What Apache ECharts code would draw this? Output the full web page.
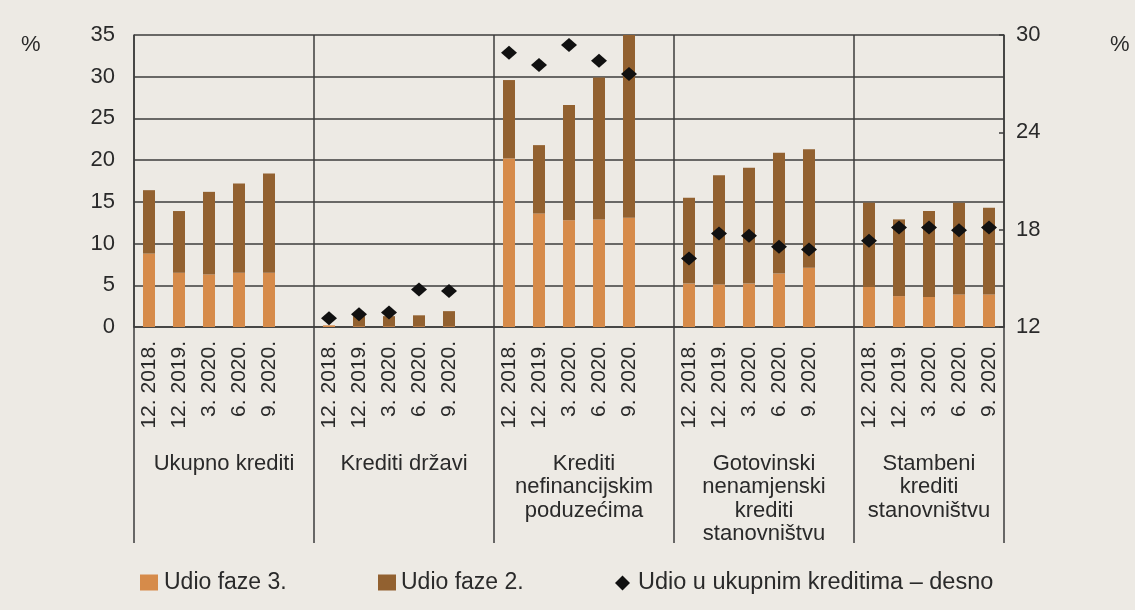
<!DOCTYPE html>
<html>
<head>
<meta charset="utf-8">
<script src="https://cdn.jsdelivr.net/npm/echarts@6/dist/echarts.min.js"></script>
<style>
html,body{margin:0;padding:0;background:#edeae4;}
#c{width:1135px;height:610px;}
</style>
</head>
<body>
<div id="c"></div>
<script>
// ---- data ----
const groups = ['Ukupno krediti', 'Krediti državi', 'Krediti\nnefinancijskim\npoduzećima', 'Gotovinski\nnenamjenski\nkrediti\nstanovništvu', 'Stambeni\nkrediti\nstanovništvu'];
const periods = ['12. 2018.', '12. 2019.', '3. 2020.', '6. 2020.', '9. 2020.'];
const seriesNames = ['Udio faze 3.', 'Udio faze 2.', 'Udio u ukupnim kreditima – desno'];
// Udio faze 3. (left axis, %)
const faza3 = [
  [8.8, 6.5, 6.3, 6.5, 6.5],
  [0.2, 0.1, 0.1, 0.1, 0.1],
  [20.2, 13.6, 12.8, 12.9, 13.1],
  [5.2, 5.1, 5.2, 6.4, 7.1],
  [4.8, 3.7, 3.6, 3.9, 3.9]
];
// Udio faze 2. (left axis, %)
const faza2 = [
  [7.6, 7.4, 9.9, 10.7, 11.9],
  [0.0, 1.2, 1.2, 1.3, 1.8],
  [9.4, 8.2, 13.8, 17.0, 21.9],
  [10.3, 13.1, 13.9, 14.5, 14.2],
  [10.1, 9.2, 10.3, 11.0, 10.4]
];
// Udio u ukupnim kreditima (right axis, %)
const udio = [
  [null, null, null, null, null],
  [12.54, 12.78, 12.89, 14.31, 14.22],
  [28.91, 28.15, 29.39, 28.42, 27.6],
  [16.22, 17.77, 17.62, 16.94, 16.78],
  [17.31, 18.13, 18.13, 17.97, 18.13]
];
const leftTicks = {min: 0, max: 35, interval: 5};
const rightTicks = {min: 12, max: 30, interval: 6};

// ---- build flat category structure (blank slot between groups) ----
const cats = [], d3 = [], d2 = [], dd = [];
const starts = [];
groups.forEach((g, gi) => {
  starts.push(cats.length);
  periods.forEach((p, pi) => {
    cats.push(p);
    d3.push(faza3[gi][pi]);
    d2.push(faza2[gi][pi]);
    dd.push(udio[gi][pi] == null ? '-' : udio[gi][pi]);
  });
  if (gi < groups.length - 1) { cats.push(''); d3.push('-'); d2.push('-'); dd.push('-'); }
});
const nSlots = cats.length;               // 29
const halfN = nSlots * 2 + 1;             // 59 points, boundaryGap false
const groupAxisData = new Array(halfN).fill('');
const sepSet = new Set();
starts.forEach((s, gi) => {
  const size = (gi < groups.length - 1) ? periods.length + 1 : periods.length;
  groupAxisData[2 * s + size] = groups[gi];
  sepSet.add(2 * s);
});
sepSet.add(halfN - 1);
const isSep = (i) => sepSet.has(i);

const FONT = "'Liberation Sans', Arial, sans-serif";
const TXT = '#2a2a2a';
const LINE = '#3d3d3d';

const chart = echarts.init(document.getElementById('c'), null, {renderer: 'canvas'});
chart.setOption({
  backgroundColor: '#edeae4',
  animation: false,
  textStyle: {fontFamily: FONT},
  grid: {left: 134, right: 131, top: 35, bottom: 283},
  legend: [
    {left: 135, top: 566, data: [seriesNames[0]], icon: 'rect', itemWidth: 18, itemHeight: 16, selectedMode: false,
     textStyle: {fontFamily: FONT, fontSize: 23, color: TXT, padding: [0, 0, 0, 1]}},
    {left: 373, top: 566, data: [seriesNames[1]], icon: 'rect', itemWidth: 18, itemHeight: 16, selectedMode: false,
     textStyle: {fontFamily: FONT, fontSize: 23, color: TXT, padding: [0, 0, 0, 0]}},
    {left: 610, top: 566, data: [seriesNames[2]], icon: 'diamond', itemWidth: 15, itemHeight: 15, selectedMode: false,
     textStyle: {fontFamily: FONT, fontSize: 23.5, color: TXT, padding: [0, 0, 0, 3]}}
  ],
  graphic: [
    {type: 'text', left: 21, top: 34, style: {text: '%', font: "22px " + FONT, fill: TXT}},
    {type: 'text', left: 1110, top: 34, style: {text: '%', font: "22px " + FONT, fill: TXT}}
  ],
  xAxis: [
    {
      type: 'category', data: cats, position: 'bottom',
      axisLine: {show: true, lineStyle: {color: LINE, width: 1.5}},
      axisTick: {show: false},
      splitLine: {show: false},
      axisLabel: {interval: 0, rotate: 90, margin: 14, fontSize: 21, color: TXT, fontFamily: FONT}
    },
    {
      type: 'category', data: groupAxisData, position: 'bottom', boundaryGap: false,
      axisLine: {show: false},
      axisTick: {show: true, interval: (i) => isSep(i), length: 216, lineStyle: {color: LINE, width: 1.5}},
      splitLine: {show: true, interval: (i) => isSep(i), lineStyle: {color: LINE, width: 1.5}},
      axisLabel: {interval: 0, margin: 125, fontSize: 22, lineHeight: 23.5, color: TXT, fontFamily: FONT, align: 'center', verticalAlign: 'top'}
    }
  ],
  yAxis: [
    {
      type: 'value', min: leftTicks.min, max: leftTicks.max, interval: leftTicks.interval, position: 'left',
      axisLine: {show: true, lineStyle: {color: LINE, width: 1.5}},
      axisTick: {show: false},
      splitLine: {show: true, lineStyle: {color: LINE, width: 1.5}},
      axisLabel: {margin: 19, fontSize: 22, color: TXT, fontFamily: FONT}
    },
    {
      type: 'value', min: rightTicks.min, max: rightTicks.max, interval: rightTicks.interval, position: 'right',
      axisLine: {show: true, lineStyle: {color: LINE, width: 1.5}},
      axisTick: {show: true, inside: true, length: 5, lineStyle: {color: LINE, width: 1.5}},
      splitLine: {show: false},
      axisLabel: {margin: 12, fontSize: 22, color: TXT, fontFamily: FONT}
    }
  ],
  series: [
    {name: seriesNames[0], type: 'bar', stack: 'f', xAxisIndex: 0, yAxisIndex: 0, data: d3, barWidth: 12,
     itemStyle: {color: '#d68b4a'}},
    {name: seriesNames[1], type: 'bar', stack: 'f', xAxisIndex: 0, yAxisIndex: 0, data: d2, barWidth: 12,
     itemStyle: {color: '#926130'}},
    {name: seriesNames[2], type: 'scatter', xAxisIndex: 0, yAxisIndex: 1, data: dd, symbol: 'diamond',
     symbolSize: [16, 14], itemStyle: {color: '#111111', opacity: 1}, z: 5}
  ]
});
</script>
</body>
</html>
